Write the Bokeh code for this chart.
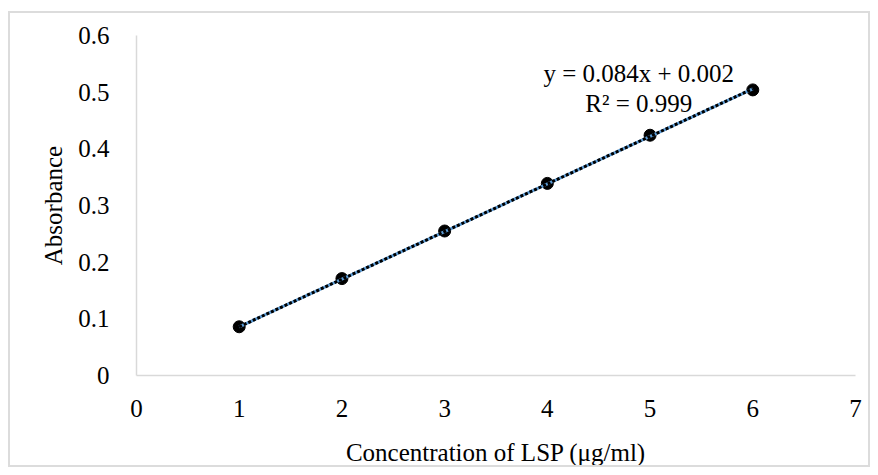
from bokeh.plotting import figure
from bokeh.models import FixedTicker, Label, Range1d
from bokeh.embed import file_html
from bokeh.resources import INLINE
import numpy as np

concentration = [1, 2, 3, 4, 5, 6]
absorbance = [0.086, 0.171, 0.255, 0.339, 0.424, 0.504]
slope = 0.084
intercept = 0.002
equation_text = "y = 0.084x + 0.002"
r2_text = "R² = 0.999"
x_ticks = [0, 1, 2, 3, 4, 5, 6, 7]
y_ticks = [0, 0.1, 0.2, 0.3, 0.4, 0.5, 0.6]
y_tick_labels = ["0", "0.1", "0.2", "0.3", "0.4", "0.5", "0.6"]

FONT = "Liberation Serif"

p = figure(width=862, height=456, output_backend="svg", toolbar_location=None,
           x_range=Range1d(0, 7), y_range=Range1d(0, 0.6),
           min_border_left=126, min_border_right=17, min_border_top=22, min_border_bottom=94)
p.styles = {"border": "2px solid #dcdcdc", "margin-left": "8px", "margin-top": "11px"}
p.outline_line_color = None
p.grid.visible = False

for ax in (p.xaxis[0], p.yaxis[0]):
    ax.axis_line_color = "#d9d9d9"
    ax.axis_line_width = 1.5
    ax.major_tick_line_color = None
    ax.minor_tick_line_color = None
    ax.major_label_text_font = FONT
    ax.major_label_text_font_size = "25px"
    ax.major_label_text_color = "black"
    ax.axis_label_text_font = FONT
    ax.axis_label_text_font_size = "25px"
    ax.axis_label_text_font_style = "normal"
    ax.axis_label_text_color = "black"

p.xaxis.ticker = FixedTicker(ticks=x_ticks)
p.yaxis.ticker = FixedTicker(ticks=y_ticks)
p.yaxis.major_label_overrides = {t: l for t, l in zip(y_ticks, y_tick_labels)}
p.xaxis.major_label_standoff = 18
p.yaxis.major_label_standoff = 21
p.xaxis.axis_label = "Concentration of LSP (μg/ml)"
p.yaxis.axis_label = "Absorbance"
p.xaxis.axis_label_standoff = 19
p.yaxis.axis_label_standoff = 8

p.scatter(concentration, absorbance, size=12, color="black")

xs = np.array([concentration[0], concentration[-1]], dtype=float)
ys = slope * xs + intercept
p.line(xs, ys, line_color="#5b9bd5", line_width=3)
p.line(xs, ys, line_color="black", line_width=3, line_dash="3 2")

p.add_layout(Label(x=4.89, y=0.533, text=equation_text, text_font=FONT, text_font_size="25px",
                   text_align="center", text_baseline="middle", text_color="black"))
p.add_layout(Label(x=4.89, y=0.480, text=r2_text, text_font=FONT, text_font_size="25px",
                   text_align="center", text_baseline="middle", text_color="black"))

open("out.html", "w").write(file_html(p, INLINE))
